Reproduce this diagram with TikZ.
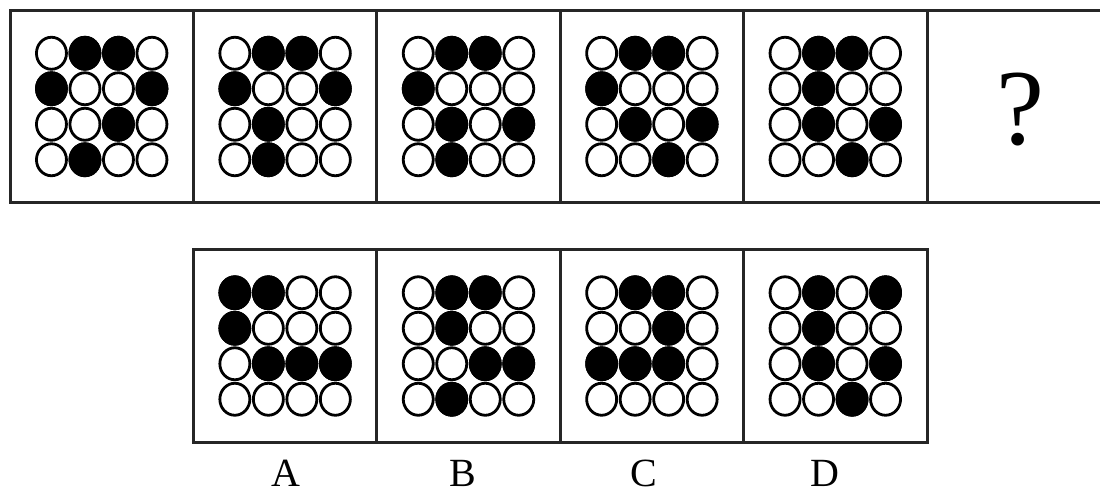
\documentclass[tikz,border=0pt]{standalone}
\usepackage{fontspec}
\setmainfont{Liberation Serif}
\usetikzlibrary{positioning}

\tikzset{
  panel/.style={draw=black!85,line width=3pt,minimum width=183.4pt,minimum height=192.5pt,inner sep=0pt,outer sep=0pt},
  frame/.style={draw=black!85,line width=3pt},
  ring/.style={draw=black,line width=2.8pt,fill=white},
  blot/.style={ring,fill=black},
  qmark/.style={font=\fontsize{108}{108}\selectfont,inner sep=0pt},
  lab/.style={font=\fontsize{40}{40}\selectfont,anchor=base,inner sep=0pt},
}

% 4x4 grid of rings in a panel, #2 = black cells as col/row
\newcommand{\dotgrid}[2]{%
  \begin{scope}[shift={(#1.center)}]
    \foreach \c in {1,...,4}
      \foreach \r in {1,...,4}
        \draw[ring] ({(\c-2.5)*33.5},{(\r-2.5)*35.5}) ellipse [x radius=15pt,y radius=16pt];
    \foreach \c/\r in {#2}
      \draw[blot] ({(\c-2.5)*33.5},{(\r-2.5)*35.5}) ellipse [x radius=15pt,y radius=16pt];
  \end{scope}}

\begin{document}
\begin{tikzpicture}[x=1pt, y=-1pt]
  \clip (0,0) rectangle (1100,493);
  \fill[white] (0,0) rectangle (1100,493);
  % Nodes
  \node[panel] (P1) at (101.7,106.5) {};
  \node[panel,right=0pt of P1] (P2) {};
  \node[panel,right=0pt of P2] (P3) {};
  \node[panel,right=0pt of P3] (P4) {};
  \node[panel,right=0pt of P4] (P5) {};
  \node[qmark] (Q) at (1020,110) {?};
  \coordinate (rimE) at (1106,0);

  \node[panel,below=47pt of P2] (A) {};
  \node[panel,right=0pt of A] (B) {};
  \node[panel,right=0pt of B] (C) {};
  \node[panel,right=0pt of C] (D) {};

  % Open cell on the right
  \draw[frame] (P5.north east) -- (P5.north east -| rimE);
  \draw[frame] (P5.south east) -- (P5.south east -| rimE);

  % Grids
  \dotgrid{P1}{2/1,3/1,1/2,4/2,3/3,2/4}
  \dotgrid{P2}{2/1,3/1,1/2,4/2,2/3,2/4}
  \dotgrid{P3}{2/1,3/1,1/2,2/3,4/3,2/4}
  \dotgrid{P4}{2/1,3/1,1/2,2/3,4/3,3/4}
  \dotgrid{P5}{2/1,3/1,2/2,2/3,4/3,3/4}
  \dotgrid{A}{1/1,2/1,1/2,2/3,3/3,4/3}
  \dotgrid{B}{2/1,3/1,2/2,3/3,4/3,2/4}
  \dotgrid{C}{2/1,3/1,3/2,1/3,2/3,3/3}
  \dotgrid{D}{2/1,4/1,2/2,2/3,4/3,3/4}

  % Labels
  \node[lab] (labA) at ([xshift=1pt,yshift=-44pt]A.south) {A};
  \node[lab] (labB) at ([xshift=-6pt,yshift=-44pt]B.south) {B};
  \node[lab] (labC) at ([xshift=-8pt,yshift=-44pt]C.south) {C};
  \node[lab] (labD) at ([xshift=-10pt,yshift=-44pt]D.south) {D};
\end{tikzpicture}
\end{document}
